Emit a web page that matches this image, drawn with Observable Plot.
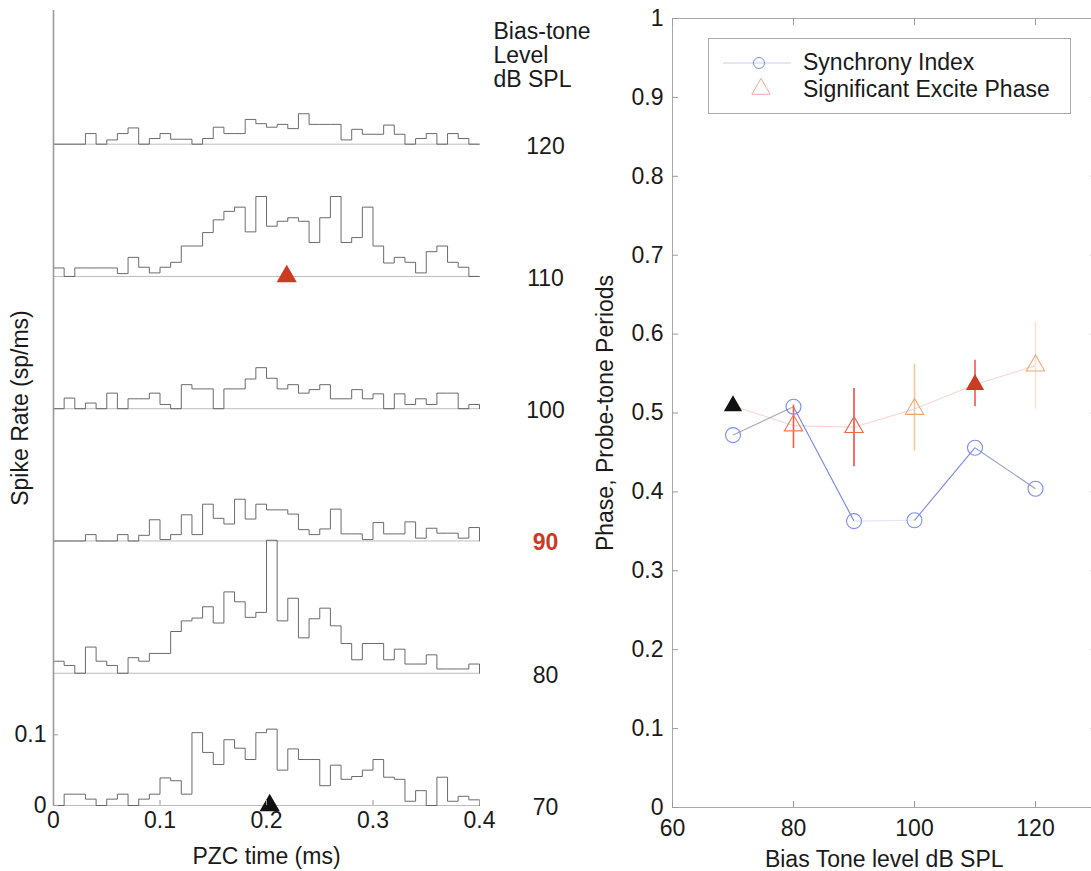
<!DOCTYPE html>
<html>
<head>
<meta charset="utf-8">
<script src="https://cdn.jsdelivr.net/npm/d3@7"></script>
<script src="https://cdn.jsdelivr.net/npm/@observablehq/plot@0.6"></script>
<style>
  html, body { margin: 0; padding: 0; background: #fff; }
  #wrap { position: relative; width: 1091px; height: 871px; overflow: hidden; background: #fff;
          font-family: "Liberation Sans", Arial, Helvetica, sans-serif; color: #1a1a1a; }
  #left, #right { position: absolute; top: 0; height: 871px; }
  #left { left: 0; width: 600px; }
  #right { left: 560px; width: 560px; }
  #left svg, #right svg { max-width: none !important; }
  #legend { position: absolute; left: 708px; top: 38px; width: 363px; height: 76px;
            box-sizing: border-box; border: 1px solid #aaa; background: #fff; }
  #legend svg { display: block; }
</style>
</head>
<body>
<div id="wrap">
  <div id="left"></div>
  <div id="right"></div>
  <div id="legend"></div>
</div>
<script>
// ---------------- Left panel: period histograms (sp/ms) ----------------
const levels = [70, 80, 90, 100, 110, 120];
const binEdges = [0, 0.01, 0.02, 0.03, 0.04, 0.05, 0.06, 0.07, 0.08, 0.09,
                  0.1, 0.11, 0.12, 0.13, 0.14, 0.15, 0.16, 0.17, 0.18, 0.19,
                  0.2, 0.21, 0.22, 0.23, 0.24, 0.25, 0.26, 0.27, 0.28, 0.29,
                  0.3, 0.31, 0.32, 0.33, 0.34, 0.35, 0.36, 0.37, 0.38, 0.39];
const timeEnd = 0.4;
const rate70 = [0, 0.016, 0.016, 0.009, 0, 0.009, 0.016, 0, 0.009, 0.016,
                0.039, 0.035, 0.016, 0.103, 0.075, 0.058, 0.093, 0.081, 0.065, 0.103,
                0.108, 0.05, 0.08, 0.065, 0.065, 0.028, 0.057, 0.037, 0.041, 0.05,
                0.065, 0.04, 0.037, 0.006, 0.021, 0, 0.04, 0.006, 0.013, 0.008];
const rate80 = [0.017, 0.011, 0, 0.037, 0.017, 0.011, 0, 0.022, 0.017, 0.028,
                0.028, 0.059, 0.074, 0.078, 0.094, 0.071, 0.115, 0.101, 0.079, 0.086,
                0.188, 0.074, 0.106, 0.05, 0.077, 0.092, 0.067, 0.042, 0.019, 0.042,
                0.042, 0.019, 0.034, 0.013, 0.013, 0.026, 0.006, 0.006, 0.006, 0.013];
const rate90 = [0, 0, 0, 0.009, 0, 0, 0.009, 0, 0.008, 0.03,
                0.002, 0.009, 0.037, 0.009, 0.052, 0.032, 0.024, 0.059, 0.031, 0.052,
                0.044, 0.044, 0.038, 0.016, 0.009, 0.017, 0.045, 0.01, 0.01, 0.002,
                0.026, 0.01, 0.01, 0.027, 0.004, 0.018, 0.011, 0.011, 0.004, 0.019];
const rate100 = [0, 0.015, 0, 0.008, 0, 0.022, 0, 0.014, 0.014, 0.022,
                 0.006, 0, 0.034, 0.028, 0.028, 0, 0.028, 0.028, 0.042, 0.058,
                 0.043, 0.028, 0.034, 0.022, 0.027, 0.034, 0.014, 0.014, 0.027, 0.014,
                 0.021, 0, 0.021, 0.006, 0.014, 0.006, 0.022, 0.022, 0, 0.006];
const rate110 = [0.012, 0, 0.012, 0.012, 0.012, 0.012, 0.004, 0.027, 0.013, 0.005,
                 0.013, 0.02, 0.043, 0.043, 0.062, 0.08, 0.092, 0.098, 0.063, 0.113,
                 0.071, 0.078, 0.083, 0.078, 0.048, 0.083, 0.113, 0.048, 0.055, 0.098,
                 0.043, 0.019, 0.027, 0.02, 0.005, 0.035, 0.043, 0.02, 0.013, 0];
const rate120 = [0, 0, 0, 0.015, 0, 0.006, 0.015, 0.023, 0, 0.008,
                 0.015, 0.007, 0.007, 0, 0.008, 0.024, 0.015, 0.015, 0.035, 0.029,
                 0.024, 0.028, 0.022, 0.043, 0.028, 0.028, 0.028, 0.006, 0.021, 0.014,
                 0.014, 0.027, 0.014, 0, 0.008, 0.015, 0, 0.015, 0.008, 0];
const stackStep = 0.187;              // vertical offset between stacked histograms
const markerLevels = [70, 110];       // excite-phase markers on the histograms
const markerTimes = [0.203, 0.219];
const leftXTicks = [0, 0.1, 0.2, 0.3, 0.4];
const leftYTicks = [0, 0.1];
const highlightLevel = 90;

// ---------------- Right panel: phase / synchrony vs level ----------------
const biasLevels = [70, 80, 90, 100, 110, 120];
const synchronyIndex = [0.472, 0.508, 0.363, 0.364, 0.456, 0.404];
const excitePhase = [0.509, 0.484, 0.482, 0.505, 0.536, 0.560];
const phaseLow  = [null, 0.455, 0.432, 0.452, 0.508, 0.505];
const phaseHigh = [null, 0.510, 0.531, 0.562, 0.567, 0.615];
const rightXTicks = [60, 80, 100, 120];
const rightYTicks = [0, 0.1, 0.2, 0.3, 0.4, 0.5, 0.6, 0.7, 0.8, 0.9, 1];

// ---------------- styling (not data) ----------------
const FONT = "'Liberation Sans', Arial, Helvetica, sans-serif";
const TXT = "#1a1a1a";
const AX = "#9a9a9a";
const RED = "#cc3a22";
const baseStyle = {fontFamily: FONT, fontSize: "23px", color: TXT, background: "transparent",
                   overflow: "visible", maxWidth: "none"};

// ---- build left rows ----
const rates = [rate70, rate80, rate90, rate100, rate110, rate120];
const baselines = levels.map((lv, i) => ({level: lv, y: i * stackStep}));
const histRows = [];
levels.forEach((lv, i) => {
  const base = i * stackStep;
  const r = rates[i];
  r.forEach((v, k) => histRows.push({level: lv, t: binEdges[k], y: base + v}));
  histRows.push({level: lv, t: timeEnd, y: base + r[r.length - 1]});
  histRows.push({level: lv, t: timeEnd, y: base});
});
const markerRows = markerLevels.map((lv, j) => ({
  level: lv, t: markerTimes[j], y: levels.indexOf(lv) * stackStep,
  color: lv === 110 ? RED : "#111"
}));

const left = Plot.plot({
  width: 600, height: 871,
  marginLeft: 53, marginRight: 121, marginTop: 10, marginBottom: 66,
  x: {domain: [0, 0.4]},
  y: {domain: [0, 1.124]},
  color: {type: "identity"},
  style: baseStyle,
  marks: [
    Plot.ruleY(baselines, {y: "y", stroke: "#bdbdbd", strokeWidth: 1}),
    Plot.line(histRows, {x: "t", y: "y", z: "level", curve: "step-after", stroke: "#5a5a5a", strokeWidth: 0.9}),
    Plot.ruleX([0], {stroke: AX, strokeWidth: 1.6}),
    Plot.dot(markerRows, {x: "t", y: "y", symbol: "triangle", r: 7.5, fill: "color", stroke: "none"}),
    Plot.axisX({ticks: leftXTicks, tickFormat: d => String(d), tickSize: -5, tickPadding: 11,
                stroke: AX, fill: TXT, label: null}),
    Plot.axisY({ticks: leftYTicks, tickFormat: d => String(d), tickSize: -5, tickPadding: 12,
                stroke: AX, fill: TXT, label: null}),
    Plot.text(baselines.filter(d => d.level !== highlightLevel),
              {x: () => timeEnd, y: "y", text: d => String(d.level), dx: 66, dy: 2, fill: TXT}),
    Plot.text(baselines.filter(d => d.level === highlightLevel),
              {x: () => timeEnd, y: "y", text: d => String(d.level), dx: 66, dy: 2, fill: RED, fontWeight: "bold"}),
    Plot.text(["Bias-tone\nLevel\ndB SPL"], {frameAnchor: "top-right", textAnchor: "start", lineAnchor: "top",
                          dx: 14, dy: 12, lineHeight: 1.04, fill: TXT}),
    Plot.text(["Spike Rate (sp/ms)"], {frameAnchor: "left", rotate: -90, dx: -33,
                          textAnchor: "middle", lineAnchor: "middle", fill: TXT}),
    Plot.text(["PZC time (ms)"], {frameAnchor: "bottom", dy: 51, textAnchor: "middle", lineAnchor: "middle", fill: TXT})
  ]
});
document.getElementById("left").appendChild(left);

// ---- build right rows ----
const syncRows = biasLevels.map((lv, i) => ({level: lv, v: synchronyIndex[i]}));
const segColors = ["#a3a8c6", "#7684e6", "#e4e6f0", "#7a88e6", "#97a0cc"];
const syncSegs = syncRows.slice(1).map((d, i) => ({
  x1: syncRows[i].level, y1: syncRows[i].v, x2: d.level, y2: d.v, color: segColors[i]
}));
const triColors = {80: "#f07a58", 90: "#ee6650", 100: "#f0a46c", 120: "#f0a878"};
const errColors = {80: "#f25a4c", 90: "#ef4c44", 100: "#f7c79c", 110: "#f05848", 120: "#f7e2d8"};
const phaseRows = biasLevels.map((lv, i) => ({level: lv, v: excitePhase[i], lo: phaseLow[i], hi: phaseHigh[i]}));
const errRows = phaseRows.filter(d => d.lo != null).map(d => ({...d, color: errColors[d.level]}));
const openRows = phaseRows.filter(d => !markerLevels.includes(d.level)).map(d => ({...d, color: triColors[d.level]}));
const filledRows = phaseRows.filter(d => markerLevels.includes(d.level)).map(d => ({...d, color: d.level === 110 ? RED : "#111"}));

const right = Plot.plot({
  width: 560, height: 871,
  marginLeft: 112, marginRight: 24.5, marginTop: 18, marginBottom: 64,
  x: {domain: [60, 130]},
  y: {domain: [0, 1]},
  color: {type: "identity"},
  style: baseStyle,
  marks: [
    Plot.frame({stroke: "#a8a8a8", strokeWidth: 1}),
    Plot.axisX({ticks: rightXTicks, tickFormat: d => String(d), tickSize: -6, tickPadding: 18,
                stroke: AX, fill: TXT, label: null}),
    Plot.axisX({anchor: "top", ticks: rightXTicks, tickFormat: () => "", tickSize: -6,
                stroke: AX, label: null}),
    Plot.axisY({ticks: rightYTicks, tickFormat: d => String(d), tickSize: -6, tickPadding: 15,
                stroke: AX, fill: TXT, label: null}),
    Plot.axisY({anchor: "right", ticks: rightYTicks, tickFormat: () => "", tickSize: -6,
                stroke: AX, label: null}),
    Plot.line(phaseRows, {x: "level", y: "v", stroke: "#f7d3ca", strokeWidth: 1}),
    Plot.link(syncSegs, {x1: "x1", y1: "y1", x2: "x2", y2: "y2", stroke: "color", strokeWidth: 1.1}),
    Plot.ruleX(errRows, {x: "level", y1: "lo", y2: "hi", stroke: "color", strokeWidth: 1.6}),
    Plot.dot(syncRows, {x: "level", y: "v", r: 7.5, stroke: "#7d8cf0", strokeWidth: 1.1, fill: "none"}),
    Plot.dot(openRows, {x: "level", y: "v", symbol: "triangle", r: 6.8, stroke: "color", strokeWidth: 1.1, fill: "none"}),
    Plot.dot(filledRows, {x: "level", y: "v", symbol: "triangle", r: 6.8, fill: "color", stroke: "none"}),
    Plot.text(["Phase, Probe-tone Periods"], {frameAnchor: "left", rotate: -90, dx: -67,
                textAnchor: "middle", lineAnchor: "middle", fill: TXT}),
    Plot.text(["Bias Tone level dB SPL"], {frameAnchor: "bottom", dy: 52, textAnchor: "middle", lineAnchor: "middle", fill: TXT})
  ]
});
document.getElementById("right").appendChild(right);

// ---- legend (boxed, inside the right axes) ----
const legendEntries = ["Synchrony Index", "Significant Excite Phase"];
const lg = d3.select("#legend").append("svg").attr("width", 361).attr("height", 74)
  .style("font-family", FONT).style("font-size", "23px");
lg.append("line").attr("x1", 14).attr("x2", 82).attr("y1", 24).attr("y2", 24)
  .attr("stroke", "#c9cfe8").attr("stroke-width", 1);
lg.append("circle").attr("cx", 50).attr("cy", 24).attr("r", 5.5)
  .attr("fill", "none").attr("stroke", "#7d8cf0").attr("stroke-width", 1);
lg.append("path").attr("d", d3.symbol(d3.symbolTriangle, Math.PI * 6.8 * 6.8)())
  .attr("transform", "translate(52,50)").attr("fill", "none").attr("stroke", "#f4a4a4").attr("stroke-width", 1);
lg.selectAll("text.entry").data(legendEntries).join("text").attr("class", "entry")
  .attr("x", 94).attr("y", (d, i) => 31 + i * 27).attr("fill", TXT).text(d => d);
</script>
</body>
</html>
